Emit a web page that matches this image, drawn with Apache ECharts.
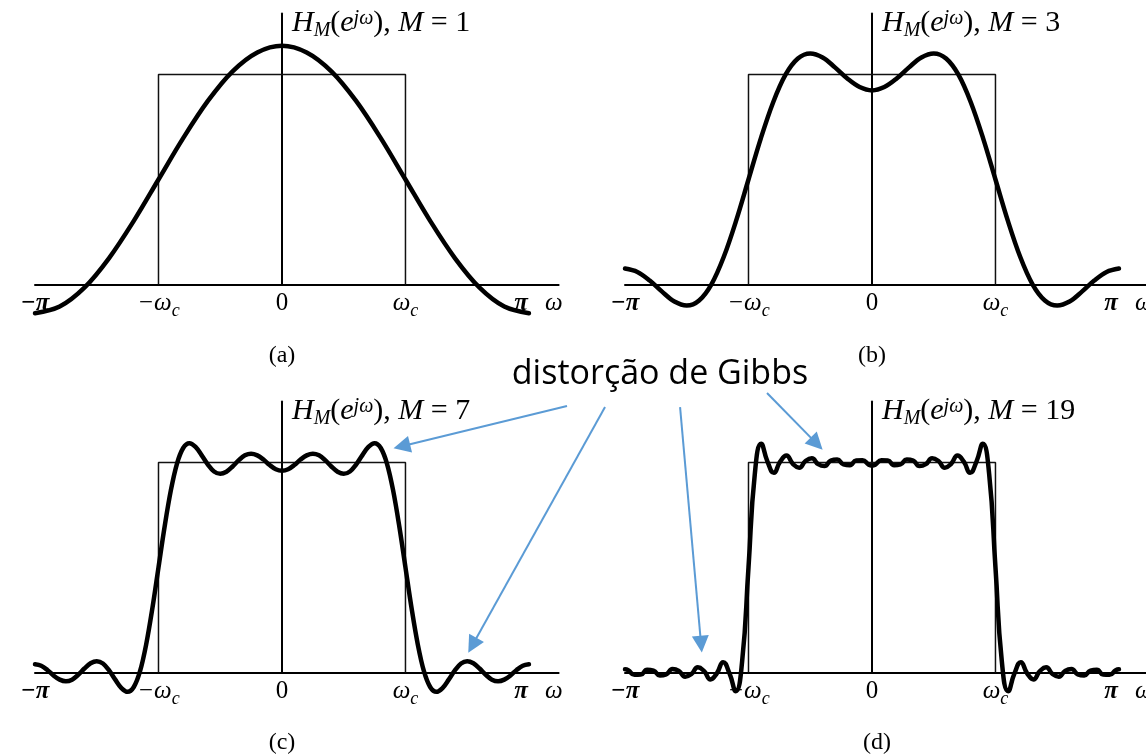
<!DOCTYPE html>
<html>
<head>
<meta charset="utf-8">
<script src="https://cdn.jsdelivr.net/npm/echarts@6/dist/echarts.min.js"></script>
<style>
  html, body { margin: 0; padding: 0; background: #fff; }
  #chart { width: 1146px; height: 755px; }
</style>
</head>
<body>
<div id="chart"></div>
<script>
// Truncated Fourier series of the ideal lowpass filter (cutoff ωc = π/2).
// Frequencies are given in units of π.
const panelLetters = ['(a)', '(b)', '(c)', '(d)'];
const orders = [1, 3, 7, 19];

// x-axis ticks (units of π) and their labels; "_c" marks a subscript
const tickValues = [-1, -0.5, 0, 0.5, 1];
const tickText = ['−π', '−ω_c', '0', 'ω_c', 'π'];
const axisVariable = 'ω';
const annotationText = 'distorção de Gibbs';

// ideal passband outline
const idealW = [-0.5, -0.5, 0.5, 0.5];
const idealH = [0, 1, 1, 0];

// M = 1
const wM1 = [-1, -0.9, -0.8, -0.7, -0.6, -0.5, -0.4, -0.3, -0.2, -0.1, 0,
  0.1, 0.2, 0.3, 0.4, 0.5, 0.6, 0.7, 0.8, 0.9, 1];
const hM1 = [-0.137, -0.105, -0.015, 0.126, 0.303, 0.5, 0.697, 0.874, 1.015, 1.105, 1.137,
  1.105, 1.015, 0.874, 0.697, 0.5, 0.303, 0.126, -0.015, -0.105, -0.137];

// M = 3
const wM3 = [-1, -0.95, -0.9, -0.85, -0.8, -0.75, -0.7, -0.65, -0.6, -0.55, -0.5,
  -0.45, -0.4, -0.35, -0.3, -0.25, -0.2, -0.15, -0.1, -0.05, 0,
  0.05, 0.1, 0.15, 0.2, 0.25, 0.3, 0.35, 0.4, 0.45, 0.5,
  0.55, 0.6, 0.65, 0.7, 0.75, 0.8, 0.85, 0.9, 0.95, 1];
const hM3 = [0.076, 0.060, 0.019, -0.034, -0.081, -0.100, -0.076, 0.001, 0.132, 0.304, 0.5,
  0.696, 0.868, 0.999, 1.076, 1.100, 1.081, 1.034, 0.981, 0.940, 0.924,
  0.940, 0.981, 1.034, 1.081, 1.100, 1.076, 0.999, 0.868, 0.696, 0.5,
  0.304, 0.132, 0.001, -0.076, -0.100, -0.081, -0.034, 0.019, 0.060, 0.076];

// M = 7
const wM7 = [-1, -0.975, -0.95, -0.925, -0.9, -0.875, -0.85, -0.825, -0.8, -0.775,
  -0.75, -0.725, -0.7, -0.675, -0.65, -0.625, -0.6, -0.575, -0.55, -0.525,
  -0.5, -0.475, -0.45, -0.425, -0.4, -0.375, -0.35, -0.325, -0.3, -0.275,
  -0.25, -0.225, -0.2, -0.175, -0.15, -0.125, -0.1, -0.075, -0.05, -0.025, 0,
  0.025, 0.05, 0.075, 0.1, 0.125, 0.15, 0.175, 0.2, 0.225, 0.25,
  0.275, 0.3, 0.325, 0.35, 0.375, 0.4, 0.425, 0.45, 0.475, 0.5,
  0.525, 0.55, 0.575, 0.6, 0.625, 0.65, 0.675, 0.7, 0.725, 0.75,
  0.775, 0.8, 0.825, 0.85, 0.875, 0.9, 0.925, 0.95, 0.975, 1];
const hM7 = [0.039, 0.032, 0.012, -0.014, -0.034, -0.042, -0.034, -0.011, 0.019, 0.044,
  0.054, 0.043, 0.010, -0.034, -0.074, -0.092, -0.069, 0.005, 0.133, 0.304,
  0.5, 0.696, 0.867, 0.995, 1.069, 1.092, 1.074, 1.034, 0.990, 0.957,
  0.946, 0.956, 0.981, 1.011, 1.034, 1.042, 1.034, 1.014, 0.988, 0.968, 0.961,
  0.968, 0.988, 1.014, 1.034, 1.042, 1.034, 1.011, 0.981, 0.956, 0.946,
  0.957, 0.990, 1.034, 1.074, 1.092, 1.069, 0.995, 0.867, 0.696, 0.5,
  0.304, 0.133, 0.005, -0.069, -0.092, -0.074, -0.034, 0.010, 0.043, 0.054,
  0.044, 0.019, -0.011, -0.034, -0.042, -0.034, -0.014, 0.012, 0.032, 0.039];

// M = 19
const wM19 = [-1, -0.9872, -0.9615, -0.9359, -0.9103, -0.8846, -0.859, -0.8333, -0.8077, -0.7821,
  -0.7564, -0.7308, -0.7051, -0.6795, -0.6538, -0.6282, -0.6026, -0.5769, -0.5513, -0.5256,
  -0.5, -0.4744, -0.4487, -0.4231, -0.3974, -0.3718, -0.3462, -0.3205, -0.2949, -0.2692,
  -0.2436, -0.2179, -0.1923, -0.1667, -0.141, -0.1154, -0.0897, -0.0641, -0.0385, -0.0128, 0,
  0.0128, 0.0385, 0.0641, 0.0897, 0.1154, 0.141, 0.1667, 0.1923, 0.2179, 0.2436,
  0.2692, 0.2949, 0.3205, 0.3462, 0.3718, 0.3974, 0.4231, 0.4487, 0.4744, 0.5,
  0.5256, 0.5513, 0.5769, 0.6026, 0.6282, 0.6538, 0.6795, 0.7051, 0.7308, 0.7564,
  0.7821, 0.8077, 0.8333, 0.859, 0.8846, 0.9103, 0.9359, 0.9615, 0.9872, 1];
const hM19 = [0.015, 0.011, -0.011, -0.010, 0.013, 0.009, -0.014, -0.009, 0.017, 0.008,
  -0.020, -0.007, 0.025, 0.006, -0.033, -0.004, 0.049, -0.004, -0.089, 0.055,
  0.5, 0.945, 1.089, 1.004, 0.951, 1.004, 1.033, 0.994, 0.975, 1.007,
  1.020, 0.992, 0.983, 1.009, 1.014, 0.991, 0.987, 1.010, 1.011, 0.989, 0.985,
  0.989, 1.011, 1.010, 0.987, 0.991, 1.014, 1.009, 0.983, 0.992, 1.020,
  1.007, 0.975, 0.994, 1.033, 1.004, 0.951, 1.004, 1.089, 0.945, 0.5,
  0.055, -0.089, -0.004, 0.049, -0.004, -0.033, 0.006, 0.025, -0.007, -0.020,
  0.008, 0.017, -0.009, -0.014, 0.009, 0.013, -0.010, -0.011, 0.011, 0.015];

const curvesW = [wM1, wM3, wM7, wM19];
const curvesH = [hM1, hM3, hM7, hM19];

// ---- layout and styling ----
const SERIF = '"Liberation Serif", "Times New Roman", serif';
const INK = '#000';
const ARROW = '#5B9BD5';

const gridBoxes = [
  { left: 35, top: 13.6 },
  { left: 625, top: 13.6 },
  { left: 35, top: 401.6 },
  { left: 625, top: 401.6 }
];
const GRID_W = 523.6, GRID_H = 270.9;

// panel letter positions (pixels)
const letterPos = [[282, 344], [872, 344], [282, 731], [877, 731]];

// annotation arrows, in the data space of the panel they point into
const gibbsArrows = [
  { panel: 2, from: [1.154, 1.269], to: [0.485, 1.077] },
  { panel: 2, from: [1.308, 1.264], to: [0.771, 0.130] },
  { panel: 3, from: [-0.777, 1.264], to: [-0.692, 0.135] },
  { panel: 3, from: [-0.425, 1.331], to: [-0.224, 1.090] }
];

function richTick(t) {
  if (t === '−π') return '{pi|−π}';
  if (t === 'π') return '{piR|π}';
  const parts = t.split('_');
  return parts.length > 1 ? '{it|' + parts[0] + '}{sub|' + parts[1] + '}' : '{rm|' + t + '}';
}

const tickRich = {
  pi: { fontFamily: SERIF, fontSize: 25, fontStyle: 'italic', fontWeight: 'bold', lineHeight: 36, color: INK },
  piR: { fontFamily: SERIF, fontSize: 25, fontStyle: 'italic', fontWeight: 'bold', lineHeight: 36, color: INK, padding: [0, 16, 0, 0] },
  it: { fontFamily: SERIF, fontSize: 25, fontStyle: 'italic', lineHeight: 36, color: INK },
  rm: { fontFamily: SERIF, fontSize: 25, lineHeight: 36, color: INK },
  sub: { fontFamily: SERIF, fontSize: 18, fontStyle: 'italic', lineHeight: 18, color: INK, padding: [16, 0, 0, 0] }
};

const titleRich = {
  it: { fontFamily: SERIF, fontSize: 30, fontStyle: 'italic', lineHeight: 36, color: INK },
  rm: { fontFamily: SERIF, fontSize: 30, lineHeight: 36, color: INK },
  sub: { fontFamily: SERIF, fontSize: 20, fontStyle: 'italic', lineHeight: 20, color: INK, padding: [15, 0, 0, 0] },
  sup: { fontFamily: SERIF, fontSize: 20, fontStyle: 'italic', lineHeight: 20, color: INK, padding: [0, 0, 9, 0] }
};

function panelTitle(m) {
  return '{it|H}{sub|M}{rm|(}{it|e}{sup|jω}{rm|), }{it|M}{rm| = ' + m + '}';
}

const grids = gridBoxes.map(g => ({
  left: g.left, top: g.top, width: GRID_W, height: GRID_H,
  containLabel: false, outerBoundsMode: 'none'
}));

const xAxes = gridBoxes.map((g, i) => ({
  type: 'value', gridIndex: i, min: -1, max: 1.12, interval: 0.5,
  axisLine: { onZero: true, lineStyle: { color: INK, width: 2 } },
  axisTick: { show: false },
  splitLine: { show: false },
  axisLabel: {
    margin: 1,
    showMaxLabel: false,
    formatter: v => {
      const k = tickValues.findIndex(t => Math.abs(t - v) < 1e-6);
      return k < 0 ? '' : richTick(tickText[k]);
    },
    rich: tickRich
  },
  name: axisVariable,
  nameLocation: 'end',
  nameGap: 4,
  nameMoveOverlap: false,
  nameTextStyle: {
    fontFamily: SERIF, fontSize: 25, fontStyle: 'italic', color: INK,
    align: 'right', verticalAlign: 'top', lineHeight: 36, padding: [1, 0, 0, 0]
  }
}));

const yAxes = gridBoxes.map((g, i) => ({
  type: 'value', gridIndex: i, min: 0, max: 1.29,
  axisLine: { show: true, onZero: true, lineStyle: { color: INK, width: 2 } },
  axisTick: { show: false },
  axisLabel: { show: false },
  splitLine: { show: false },
  name: panelTitle(orders[i]),
  nameLocation: 'end',
  nameGap: 8,
  nameMoveOverlap: false,
  nameTextStyle: {
    align: 'left', verticalAlign: 'top', padding: [0, 0, 0, 10], rich: titleRich
  }
}));

const series = [];
gridBoxes.forEach((g, i) => {
  series.push({
    type: 'line', xAxisIndex: i, yAxisIndex: i, silent: true,
    data: idealW.map((w, k) => [w, idealH[k]]),
    showSymbol: false, symbol: 'none', z: 2,
    lineStyle: { color: '#111', width: 1.5 }
  });
  series.push({
    type: 'line', xAxisIndex: i, yAxisIndex: i, silent: true, clip: false,
    data: curvesW[i].map((w, k) => [w, curvesH[i][k]]),
    showSymbol: false, symbol: 'none', z: 3,
    smooth: i === 3 ? 0.5 : 0.35,
    lineStyle: { color: INK, width: 4.5, cap: 'round', join: 'round' }
  });
});

[2, 3].forEach(p => {
  series.push({
    type: 'lines', coordinateSystem: 'cartesian2d', xAxisIndex: p, yAxisIndex: p,
    silent: true, clip: false, z: 10,
    symbol: ['none', 'triangle'], symbolSize: [0, 17],
    lineStyle: { color: ARROW, width: 2, opacity: 1, curveness: 0 },
    data: gibbsArrows.filter(a => a.panel === p).map(a => ({ coords: [a.from, a.to] }))
  });
});

const chart = echarts.init(document.getElementById('chart'), null, { renderer: 'canvas' });
chart.setOption({
  animation: false,
  backgroundColor: '#fff',
  title: panelLetters.map((t, i) => ({
    text: t, left: letterPos[i][0], top: letterPos[i][1], textAlign: 'center', padding: 0,
    textStyle: { fontFamily: SERIF, fontSize: 24, fontWeight: 'normal', color: INK }
  })),
  grid: grids,
  xAxis: xAxes,
  yAxis: yAxes,
  series: series,
  graphic: [{
    type: 'text', x: 660, y: 374, silent: true,
    style: {
      text: annotationText, fontFamily: '"Open Sans", "Noto Sans", sans-serif', fontSize: 34,
      fill: INK, align: 'center', verticalAlign: 'middle'
    }
  }]
});
</script>
</body>
</html>
